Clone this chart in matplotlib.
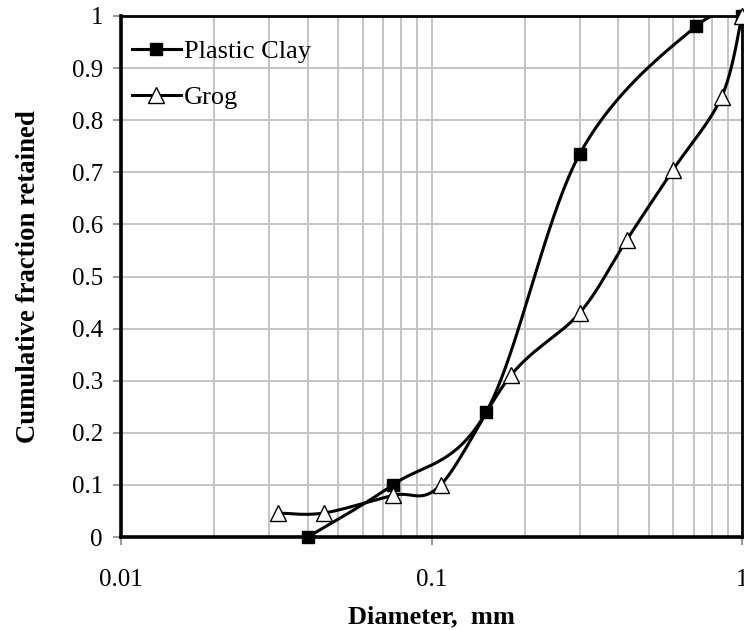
import numpy as np
import matplotlib
matplotlib.use("Agg")
import matplotlib.pyplot as plt

# ---- data ----
clay_d = [0.04, 0.075, 0.15, 0.30, 0.71, 1.0]
clay_f = [0.0, 0.10, 0.24, 0.735, 0.98, 1.0]
grog_d = [0.032, 0.045, 0.075, 0.107, 0.18, 0.30, 0.425, 0.60, 0.86, 1.0]
grog_f = [0.046, 0.046, 0.08, 0.10, 0.31, 0.43, 0.57, 0.705, 0.845, 1.0]
y_ticks = [0, 0.1, 0.2, 0.3, 0.4, 0.5, 0.6, 0.7, 0.8, 0.9, 1.0]
x_ticks = [0.01, 0.1, 1]
x_ticklabels = ["0.01", "0.1", "1"]

plt.rcParams['font.family'] = ['Liberation Serif', 'DejaVu Serif']

SX, SY = 310.5, 521.0  # visual scale for smoothing (pixels per decade / per unit)


def smooth(xs, ys, n=40):
    u = np.log10(np.asarray(xs, float)) * SX
    v = np.asarray(ys, float) * SY
    P = np.column_stack([u, v])
    P = np.vstack([P[0], P, P[-1]])
    out = []
    t = np.linspace(0, 1, n)
    for i in range(1, len(P) - 2):
        p0, p1, p2, p3 = P[i - 1], P[i], P[i + 1], P[i + 2]
        c1 = p1 + (p2 - p0) / 6.0
        c2 = p2 - (p3 - p1) / 6.0
        seg = ((1 - t)[:, None] ** 3 * p1 + 3 * ((1 - t) ** 2 * t)[:, None] * c1
               + 3 * ((1 - t) * t ** 2)[:, None] * c2 + (t ** 3)[:, None] * p2)
        out.append(seg if i == 1 else seg[1:])
    S = np.vstack(out)
    return 10 ** (S[:, 0] / SX), S[:, 1] / SY


fig = plt.figure(figsize=(7.44, 6.30), dpi=100)
ax = fig.add_axes([121 / 744, 93 / 630, 621 / 744, 521 / 630])
ax.set_xscale('log')
ax.set_xlim(0.01, 1)
ax.set_ylim(0, 1)

ax.grid(True, which='both', axis='x', color='#c4c4c4', lw=1.4)
ax.grid(True, which='major', axis='y', color='#c4c4c4', lw=1.4)
ax.set_axisbelow(True)

cx, cy = smooth(clay_d, clay_f)
gx, gy = smooth(grog_d, grog_f)
ax.plot(cx, cy, color='black', lw=2.2, zorder=3)
ax.plot(gx, gy, color='black', lw=2.2, zorder=3)
ax.plot(clay_d, clay_f, ls='none', marker='s', ms=8, mfc='black', mec='black', zorder=4, clip_on=False)
ax.plot(grog_d, grog_f, ls='none', marker='^', ms=12, mfc='white', mec='black', mew=1.0, zorder=4, clip_on=False)

# legend handles
h1, = ax.plot([], [], color='black', lw=2.2, marker='s', ms=8, mfc='black', mec='black', label='Plastic Clay')
h2, = ax.plot([], [], color='black', lw=2.2, marker='^', ms=11, mfc='white', mec='black', label='Grog')
leg = ax.legend(handles=[h1, h2], loc='upper left', frameon=False, fontsize=19,
                handlelength=1.85, handletextpad=0.12, labelspacing=0.85,
                bbox_to_anchor=(-0.012, 0.99), borderaxespad=0.3)

ax.set_xticks(x_ticks)
ax.set_xticklabels(x_ticklabels)
ax.xaxis.set_minor_formatter(matplotlib.ticker.NullFormatter())
ax.tick_params(axis='x', which='minor', length=0)
ax.set_yticks(y_ticks)
ax.set_yticklabels(["0" if v == 0 else ("1" if v == 1 else f"{v:.1f}") for v in y_ticks])
ax.tick_params(axis='both', which='major', labelsize=18, length=6, width=1.2,
               color='#888888', direction='out', pad=8)
ax.tick_params(axis='y', which='major', pad=7)
ax.tick_params(axis='x', which='major', pad=17)

for side in ['left', 'bottom']:
    ax.spines[side].set_linewidth(2.6)
for side in ['top', 'right']:
    ax.spines[side].set_linewidth(2.0)

ax.set_xlabel('Diameter,  mm', fontsize=19, fontweight='bold', labelpad=10)
ax.set_ylabel('Cumulative fraction retained', fontsize=19.3, fontweight='bold', labelpad=22)

fig.savefig('out.png', dpi=100)
